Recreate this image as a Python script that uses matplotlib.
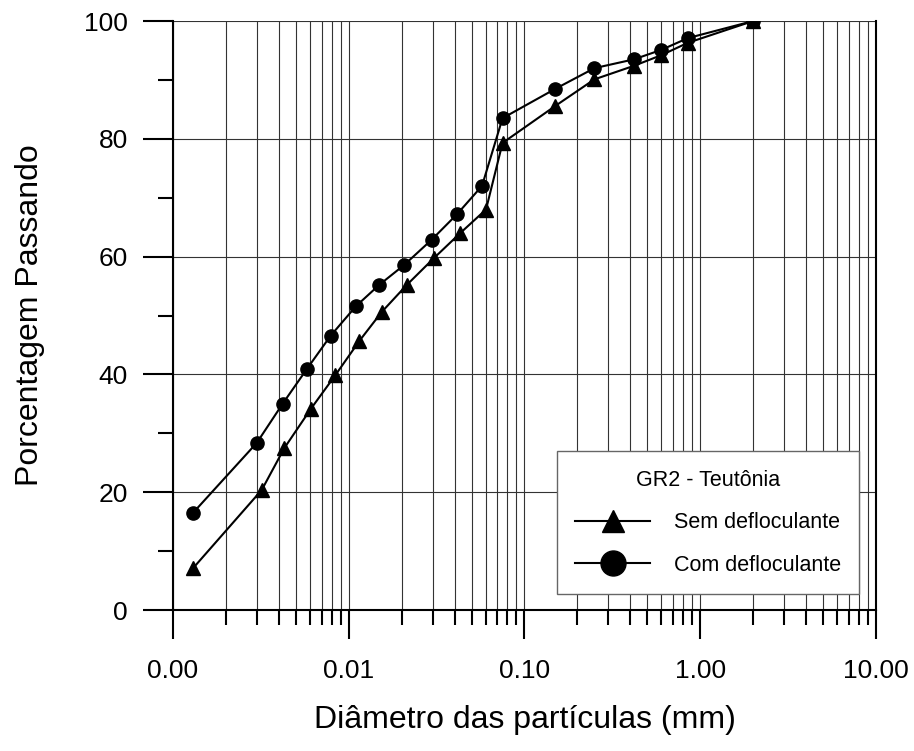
import matplotlib
matplotlib.use("Agg")
import matplotlib.pyplot as plt
from matplotlib.lines import Line2D
from matplotlib.ticker import LogLocator, FormatStrFormatter, MultipleLocator, NullFormatter

plt.rcParams['font.family'] = ['Liberation Sans', 'DejaVu Sans']

# dados
diam_sem = [0.0013, 0.0032, 0.0043, 0.0061, 0.0084, 0.0115, 0.0154, 0.0214, 0.0304,
            0.0431, 0.0604, 0.075, 0.15, 0.25, 0.42, 0.6, 0.85, 2.0]
pass_sem = [7.1, 20.4, 27.5, 34.2, 39.9, 45.7, 50.6, 55.2, 59.7,
            64.0, 68.0, 79.3, 85.6, 90.1, 92.4, 94.2, 96.3, 100]

diam_com = [0.0013, 0.0030, 0.0042, 0.0058, 0.0079, 0.0110, 0.0149, 0.0207, 0.0297,
            0.0413, 0.0573, 0.075, 0.15, 0.25, 0.42, 0.6, 0.85, 2.0]
pass_com = [16.5, 28.4, 35.0, 41.0, 46.6, 51.6, 55.2, 58.6, 62.9,
            67.2, 72.0, 83.5, 88.5, 92.0, 93.5, 95.1, 97.1, 100]

fig = plt.figure(figsize=(9.14, 7.51), dpi=100)
ax = fig.add_axes([0.1893, 0.1877, 0.7691, 0.7843])

ax.plot(diam_sem, pass_sem, color='black', lw=1.5, marker='^', ms=10, zorder=3)
ax.plot(diam_com, pass_com, color='black', lw=1.5, marker='o', ms=9.5, zorder=3)

ax.set_xscale('log')
ax.set_xlim(0.001, 10)
ax.set_ylim(0, 100)

ax.xaxis.set_major_locator(LogLocator(base=10, numticks=10))
ax.xaxis.set_minor_locator(LogLocator(base=10, subs=range(2, 10), numticks=20))
ax.xaxis.set_major_formatter(FormatStrFormatter('%.2f'))
ax.xaxis.set_minor_formatter(NullFormatter())
ax.yaxis.set_major_locator(MultipleLocator(20))
ax.yaxis.set_minor_locator(MultipleLocator(10))

ax.grid(True, which='major', axis='both', color='0.2', lw=0.8)
ax.grid(True, which='minor', axis='x', color='0.2', lw=0.8)
ax.set_axisbelow(True)

ax.tick_params(axis='x', which='major', direction='out', length=21, width=1.5, pad=14, labelsize=19)
ax.tick_params(axis='x', which='minor', direction='out', length=10.5, width=1.5)
ax.tick_params(axis='y', which='major', direction='out', length=21.5, width=1.5, pad=11, labelsize=19)
ax.tick_params(axis='y', which='minor', direction='out', length=11, width=1.5)

ax.spines['top'].set_visible(False)
for s in ['left', 'bottom', 'right']:
    ax.spines[s].set_linewidth(1.5)

ax.set_xlabel('Diâmetro das partículas (mm)', fontsize=23)
ax.set_ylabel('Porcentagem Passando', fontsize=23)
ax.xaxis.set_label_coords(0.5, -0.161)
ax.yaxis.set_label_coords(-0.182, 0.5)

handles = [Line2D([], [], color='black', lw=1.5, marker='^', ms=15.5),
           Line2D([], [], color='black', lw=1.5, marker='o', ms=18)]
leg = ax.legend(handles, ['Sem defloculante', 'Com defloculante'],
                title='GR2 - Teutônia', fontsize=15.5, title_fontsize=15.5,
                loc='lower left', bbox_to_anchor=(0.546, 0.027, 0.43, 0.26),
                mode='expand', fancybox=False, framealpha=1, edgecolor='0.4',
                handlelength=3.5, handletextpad=1.1, labelspacing=1.0,
                borderpad=0.85, borderaxespad=0)
leg.get_frame().set_linewidth(1.0)

fig.savefig('out.png', dpi=100)
